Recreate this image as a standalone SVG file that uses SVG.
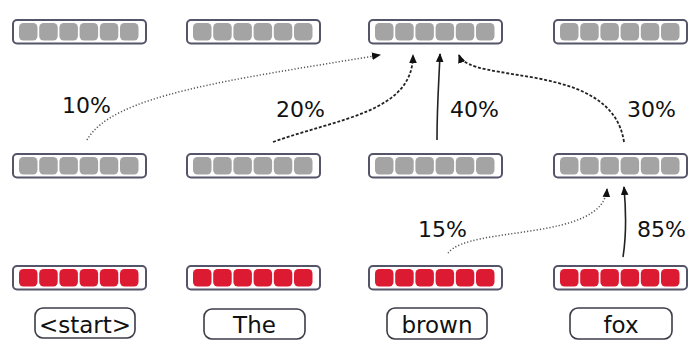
<svg xmlns="http://www.w3.org/2000/svg" width="689" height="340" viewBox="0 0 689 340">
  <style>
    .vec { fill: #ffffff; stroke: #55556a; stroke-width: 2; }
    .g { fill: #a4a4a4; }
    .r { fill: #dc1b33; }
    .word { fill: #ffffff; stroke: #3c3c48; stroke-width: 1.6; }
    .wt { font-family: "DejaVu Sans", sans-serif; font-size: 23px; fill: #111111; text-anchor: middle; }
    .pct { font-family: "DejaVu Sans", sans-serif; font-size: 22px; fill: #111111; }
    .link { fill: none; stroke: #222222; stroke-width: 1.6; marker-end: url(#tip); }
    .dot { stroke-dasharray: 1.2 2; stroke-width: 1.5; stroke: #555555; }
    .dash { stroke-dasharray: 3 1.8; stroke-width: 1.8; }
  </style>
  <defs>
    <marker id="tip" markerWidth="10" markerHeight="10" refX="8" refY="5" orient="auto" markerUnits="userSpaceOnUse">
      <path d="M0,1.2 L9,5 L0,8.8 Z" fill="#111111"/>
    </marker>
    <!-- six-cell vector, grey -->
    <g id="cellsG">
      <rect class="g" x="6" y="3" width="18.5" height="17.5" rx="4.5"/>
      <rect class="g" x="26.2" y="3" width="18.5" height="17.5" rx="4.5"/>
      <rect class="g" x="46.4" y="3" width="18.5" height="17.5" rx="4.5"/>
      <rect class="g" x="66.6" y="3" width="18.5" height="17.5" rx="4.5"/>
      <rect class="g" x="86.8" y="3" width="18.5" height="17.5" rx="4.5"/>
      <rect class="g" x="107" y="3" width="18.5" height="17.5" rx="4.5"/>
    </g>
    <!-- six-cell vector, red -->
    <g id="cellsR">
      <rect class="r" x="6" y="3" width="18.5" height="17.5" rx="4.5"/>
      <rect class="r" x="26.2" y="3" width="18.5" height="17.5" rx="4.5"/>
      <rect class="r" x="46.4" y="3" width="18.5" height="17.5" rx="4.5"/>
      <rect class="r" x="66.6" y="3" width="18.5" height="17.5" rx="4.5"/>
      <rect class="r" x="86.8" y="3" width="18.5" height="17.5" rx="4.5"/>
      <rect class="r" x="107" y="3" width="18.5" height="17.5" rx="4.5"/>
    </g>
  </defs>

  <!-- top layer -->
  <g id="top1" transform="translate(13,20)"><rect class="vec" x="0" y="0" width="133" height="23.5" rx="4"/><use href="#cellsG"/></g>
  <g id="top2" transform="translate(187,20)"><rect class="vec" x="0" y="0" width="133" height="23.5" rx="4"/><use href="#cellsG"/></g>
  <g id="top3" transform="translate(369,20)"><rect class="vec" x="0" y="0" width="133" height="23.5" rx="4"/><use href="#cellsG"/></g>
  <g id="top4" transform="translate(554,20)"><rect class="vec" x="0" y="0" width="133" height="23.5" rx="4"/><use href="#cellsG"/></g>

  <!-- middle layer -->
  <g id="mid1" transform="translate(13,154)"><rect class="vec" x="0" y="0" width="133" height="23.5" rx="4"/><use href="#cellsG"/></g>
  <g id="mid2" transform="translate(187,154)"><rect class="vec" x="0" y="0" width="133" height="23.5" rx="4"/><use href="#cellsG"/></g>
  <g id="mid3" transform="translate(369,154)"><rect class="vec" x="0" y="0" width="133" height="23.5" rx="4"/><use href="#cellsG"/></g>
  <g id="mid4" transform="translate(554,154)"><rect class="vec" x="0" y="0" width="133" height="23.5" rx="4"/><use href="#cellsG"/></g>

  <!-- embedding layer -->
  <g id="emb1" transform="translate(13,266)"><rect class="vec" x="0" y="0" width="133" height="23.5" rx="4"/><use href="#cellsR"/></g>
  <g id="emb2" transform="translate(187,266)"><rect class="vec" x="0" y="0" width="133" height="23.5" rx="4"/><use href="#cellsR"/></g>
  <g id="emb3" transform="translate(369,266)"><rect class="vec" x="0" y="0" width="133" height="23.5" rx="4"/><use href="#cellsR"/></g>
  <g id="emb4" transform="translate(554,266)"><rect class="vec" x="0" y="0" width="133" height="23.5" rx="4"/><use href="#cellsR"/></g>

  <!-- input tokens -->
  <g id="w1"><rect class="word" x="35" y="308" width="100" height="30" rx="8"/><text class="wt" x="85" y="333">&lt;start&gt;</text></g>
  <g id="w2"><rect class="word" x="204" y="309" width="101" height="30" rx="8"/><text class="wt" x="254.5" y="333">The</text></g>
  <g id="w3"><rect class="word" x="387" y="308" width="100" height="31" rx="8"/><text class="wt" x="437" y="333">brown</text></g>
  <g id="w4"><rect class="word" x="570" y="308" width="102" height="31" rx="8"/><text class="wt" x="621" y="333">fox</text></g>

  <!-- attention connectors -->
  <g id="links">
    <path class="link dot" d="M87,140 C112,95 230,80 380,55"/>
    <path class="link dash" d="M273,142 C340,118 413,112 413,55"/>
    <path class="link" d="M437,140 C437,105 439,80 440,54"/>
    <path class="link dash" d="M624,142 C612,60 470,85 459,55"/>
    <path class="link dot" d="M448,253 C470,225 603,242 607,189"/>
    <path class="link" d="M623,257 C627,232 626,210 624,187"/>
  </g>

  <!-- weights -->
  <g id="labels">
    <text class="pct" x="62" y="113">10%</text>
    <text class="pct" x="276" y="117">20%</text>
    <text class="pct" x="450" y="117">40%</text>
    <text class="pct" x="627" y="117">30%</text>
    <text class="pct" x="418" y="237">15%</text>
    <text class="pct" x="637" y="237">85%</text>
  </g>
</svg>
